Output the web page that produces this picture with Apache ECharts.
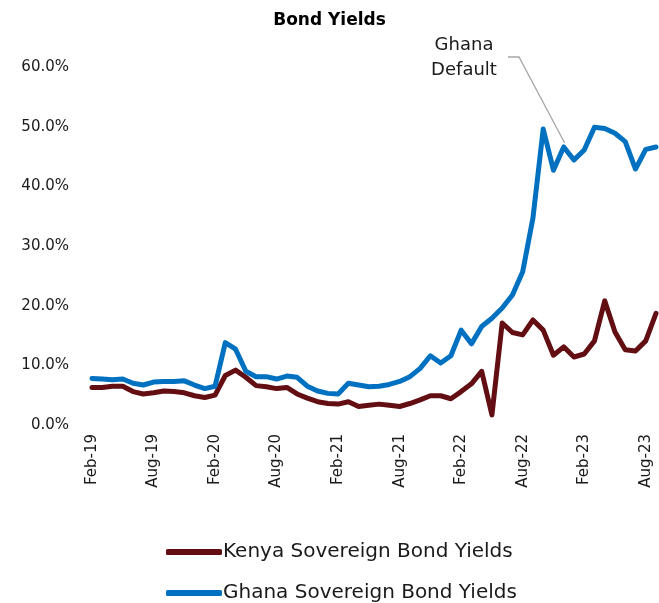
<!DOCTYPE html>
<html>
<head>
<meta charset="utf-8">
<script src="https://cdn.jsdelivr.net/npm/echarts@6/dist/echarts.min.js"></script>
<style>
  html, body { margin: 0; padding: 0; background: #fff; }
  #chart { width: 659px; height: 603px; }
</style>
</head>
<body>
<div id="chart"></div>
<script>
// Monthly observations, Feb-2019 to Sep-2023
const months = [
  'Feb-19','Mar-19','Apr-19','May-19','Jun-19','Jul-19','Aug-19','Sep-19','Oct-19','Nov-19','Dec-19','Jan-20',
  'Feb-20','Mar-20','Apr-20','May-20','Jun-20','Jul-20','Aug-20','Sep-20','Oct-20','Nov-20','Dec-20','Jan-21',
  'Feb-21','Mar-21','Apr-21','May-21','Jun-21','Jul-21','Aug-21','Sep-21','Oct-21','Nov-21','Dec-21','Jan-22',
  'Feb-22','Mar-22','Apr-22','May-22','Jun-22','Jul-22','Aug-22','Sep-22','Oct-22','Nov-22','Dec-22','Jan-23',
  'Feb-23','Mar-23','Apr-23','May-23','Jun-23','Jul-23','Aug-23','Sep-23'
];

// Yields in percent
const kenyaYields = [
  6.3, 6.3, 6.5, 6.5, 5.6, 5.2, 5.4, 5.7, 5.6, 5.4, 4.9, 4.6,
  5.0, 8.3, 9.2, 8.0, 6.6, 6.4, 6.1, 6.3, 5.2, 4.5, 3.9, 3.6,
  3.5, 3.9, 3.1, 3.3, 3.5, 3.3, 3.1, 3.6, 4.2, 4.9, 4.9, 4.4,
  5.6, 6.9, 9.0, 1.7, 17.1, 15.5, 15.1, 17.6, 15.9, 11.7, 13.1, 11.4,
  11.9, 14.1, 20.8, 15.6, 12.6, 12.4, 14.1, 18.7
];
const ghanaYields = [
  7.8, 7.7, 7.6, 7.7, 7.0, 6.7, 7.2, 7.3, 7.3, 7.4, 6.7, 6.1,
  6.5, 13.8, 12.7, 9.0, 8.1, 8.1, 7.7, 8.2, 8.0, 6.5, 5.7, 5.3,
  5.2, 7.0, 6.7, 6.4, 6.5, 6.8, 7.3, 8.1, 9.5, 11.6, 10.4, 11.6,
  15.9, 13.6, 16.5, 17.9, 19.6, 21.8, 25.7, 34.7, 49.6, 42.7, 46.6, 44.4,
  46.1, 49.9, 49.7, 48.9, 47.5, 42.9, 46.2, 46.6
];

const seriesNames = ['Kenya Sovereign Bond Yields', 'Ghana Sovereign Bond Yields'];
const yTicks = [0, 10, 20, 30, 40, 50, 60];
const defaultMonth = 'Dec-22';
const defaultNote = 'Ghana\nDefault';

const FONT = '"DejaVu Sans", Lato, sans-serif';
const TEXT = '#1a1a1a';

// One legend row per series, stacked under the axis labels
const legendRow = (name, top) => ({
  orient: 'horizontal',
  left: 161,
  top: top,
  itemWidth: 56,
  itemHeight: 6,
  icon: 'roundRect',
  textStyle: { fontFamily: FONT, fontSize: 20, color: TEXT, padding: [0, 0, 0, -4] },
  data: [name]
});

const chart = echarts.init(document.getElementById('chart'), null, { renderer: 'canvas' });

chart.setOption({
  animation: false,
  backgroundColor: '#fff',
  textStyle: { fontFamily: FONT, color: TEXT },
  title: {
    text: 'Bond Yields',
    left: 'center',
    top: 7,
    textStyle: { fontFamily: FONT, fontWeight: 'bold', fontSize: 17, color: '#000' }
  },
  grid: { left: 92, right: 3, top: 67, bottom: 178, containLabel: false },
  xAxis: {
    type: 'category',
    data: months,
    boundaryGap: false,
    axisLine: { show: false },
    axisTick: { show: false },
    splitLine: { show: false },
    axisLabel: {
      rotate: 90,
      interval: (idx) => idx % 6 === 0,
      fontFamily: FONT,
      fontSize: 15,
      color: TEXT,
      margin: 9
    }
  },
  yAxis: {
    type: 'value',
    min: yTicks[0],
    max: yTicks[yTicks.length - 1],
    interval: yTicks[1] - yTicks[0],
    axisLine: { show: false },
    axisTick: { show: false },
    splitLine: { show: false },
    axisLabel: {
      fontFamily: FONT,
      fontSize: 15,
      color: TEXT,
      margin: 23,
      formatter: (v) => v.toFixed(1) + '%'
    }
  },
  legend: [legendRow(seriesNames[0], 537), legendRow(seriesNames[1], 578)],
  series: [
    {
      name: seriesNames[0],
      type: 'line',
      data: kenyaYields,
      symbol: 'none',
      color: '#620E12',
      lineStyle: { width: 5, color: '#620E12', cap: 'round', join: 'round' },
      z: 2
    },
    {
      name: seriesNames[1],
      type: 'line',
      data: ghanaYields,
      symbol: 'none',
      color: '#0070C0',
      lineStyle: { width: 5, color: '#0070C0', cap: 'round', join: 'round' },
      z: 3
    }
  ]
});

// Call-out pointing at the default month on the Ghana line
const idx = months.indexOf(defaultMonth);
const pt = chart.convertToPixel({ seriesIndex: 1 }, [idx, ghanaYields[idx]]);
chart.setOption({
  graphic: [
    {
      type: 'text',
      x: 464,
      y: 33,
      style: {
        text: defaultNote,
        fontFamily: FONT,
        fontSize: 18,
        lineHeight: 25,
        fill: TEXT,
        align: 'center'
      }
    },
    {
      type: 'polyline',
      shape: { points: [[508, 57], [519, 57], [pt[0] + 1, pt[1] - 4]] },
      style: { stroke: '#a6a6a6', lineWidth: 1.3, fill: null },
      z: 10
    }
  ]
});
</script>
</body>
</html>
